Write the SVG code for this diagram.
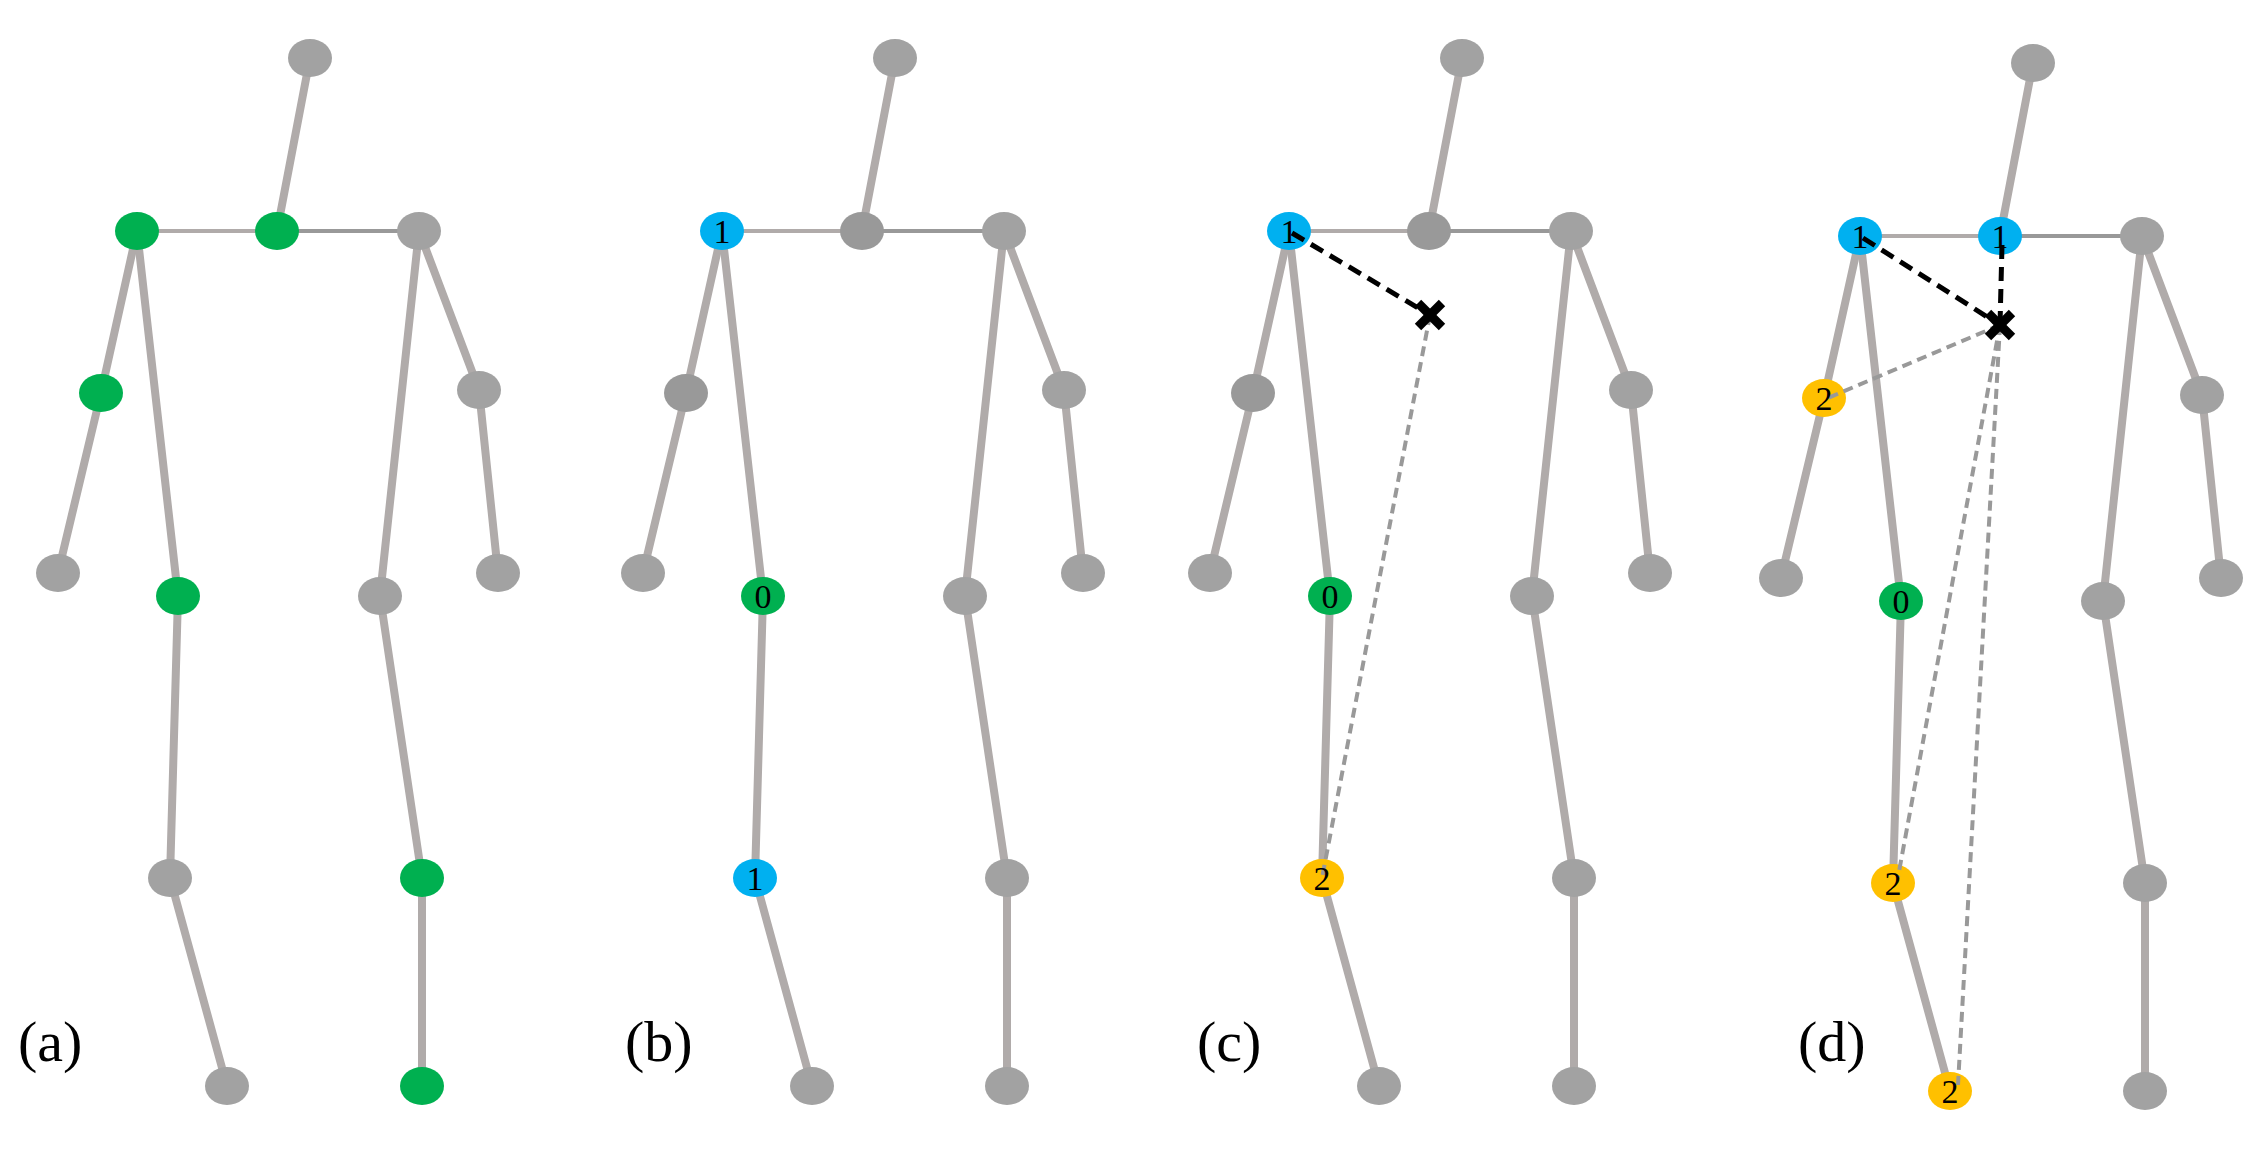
<svg xmlns="http://www.w3.org/2000/svg" width="2264" height="1151" viewBox="0 0 2264 1151">
<style>
.b{stroke:#b0abaa;stroke-width:8;fill:none;stroke-linecap:round}
.t{stroke:#b0abaa;stroke-width:4}
.t2{stroke:#999;stroke-width:4}
.n{fill:#a2a2a2}
.g{fill:#00b050}.bl{fill:#00b0f0}.o{fill:#ffc000}
.num{font-family:"Liberation Serif",serif;font-size:34px;text-anchor:middle;fill:#000}
.lab{font-family:"Liberation Serif",serif;font-size:58px;fill:#000}
.kd{stroke:#000;stroke-width:5;stroke-dasharray:14 8;fill:none}
.gd{stroke:#999;stroke-width:4;stroke-dasharray:10 6;fill:none}
.x{stroke:#000;stroke-width:9;stroke-linecap:butt}
</style>
<defs>
<g id="bones">
<line class="b" x1="310" y1="58" x2="277" y2="231"/>
<line class="t" x1="137" y1="231" x2="277" y2="231"/>
<line class="t2" x1="277" y1="231" x2="419" y2="231"/>
<polyline class="b" points="137,231 101,393 58,573"/>
<polyline class="b" points="137,231 178,596 170,878 227,1086"/>
<polyline class="b" points="419,231 479,390 498,573"/>
<polyline class="b" points="419,231 380,596 422,878 422,1086"/>
</g>
<ellipse id="e" rx="22" ry="19"/>
</defs>
<g id="panel-a">
<use href="#bones"/>
<use href="#e" class="n" x="310" y="58"/>
<use href="#e" class="g" x="137" y="231"/>
<use href="#e" class="g" x="277" y="231"/>
<use href="#e" class="n" x="419" y="231"/>
<use href="#e" class="g" x="101" y="393"/>
<use href="#e" class="n" x="58" y="573"/>
<use href="#e" class="g" x="178" y="596"/>
<use href="#e" class="n" x="170" y="878"/>
<use href="#e" class="n" x="227" y="1086"/>
<use href="#e" class="n" x="479" y="390"/>
<use href="#e" class="n" x="498" y="573"/>
<use href="#e" class="n" x="380" y="596"/>
<use href="#e" class="g" x="422" y="878"/>
<use href="#e" class="g" x="422" y="1086"/>
<text class="lab" x="18" y="1061">(a)</text>
</g>
<g id="panel-b" transform="translate(585,0)">
<use href="#bones"/>
<use href="#e" class="n" x="310" y="58"/>
<use href="#e" class="bl" x="137" y="231"/>
<use href="#e" fill="#999" x="277" y="231"/>
<use href="#e" class="n" x="419" y="231"/>
<use href="#e" fill="#999" x="101" y="393"/>
<use href="#e" class="n" x="58" y="573"/>
<use href="#e" class="g" x="178" y="596"/>
<use href="#e" class="bl" x="170" y="878"/>
<use href="#e" class="n" x="227" y="1086"/>
<use href="#e" class="n" x="479" y="390"/>
<use href="#e" class="n" x="498" y="573"/>
<use href="#e" class="n" x="380" y="596"/>
<use href="#e" class="n" x="422" y="878"/>
<use href="#e" class="n" x="422" y="1086"/>
<text class="num" x="137" y="243">1</text>
<text class="num" x="178" y="608">0</text>
<text class="num" x="170" y="890">1</text>
<text class="lab" x="40" y="1061">(b)</text>
</g>
<g id="panel-c" transform="translate(1152,0)">
<use href="#bones"/>
<use href="#e" class="n" x="310" y="58"/>
<use href="#e" class="bl" x="137" y="231"/>
<use href="#e" fill="#999" x="277" y="231"/>
<use href="#e" class="n" x="419" y="231"/>
<use href="#e" fill="#999" x="101" y="393"/>
<use href="#e" class="n" x="58" y="573"/>
<use href="#e" class="g" x="178" y="596"/>
<use href="#e" class="o" x="170" y="878"/>
<use href="#e" class="n" x="227" y="1086"/>
<use href="#e" class="n" x="479" y="390"/>
<use href="#e" class="n" x="498" y="573"/>
<use href="#e" class="n" x="380" y="596"/>
<use href="#e" class="n" x="422" y="878"/>
<use href="#e" class="n" x="422" y="1086"/>
<g id="conn-c">
<line class="kd" x1="140" y1="233" x2="278" y2="315"/>
<line class="gd" x1="278" y1="315" x2="170" y2="878"/>
<line class="x" x1="266" y1="303" x2="290" y2="327"/>
<line class="x" x1="290" y1="303" x2="266" y2="327"/>
</g>
<text class="num" x="137" y="243">1</text>
<text class="num" x="178" y="608">0</text>
<text class="num" x="170" y="890">2</text>
<text class="lab" x="45" y="1061">(c)</text>
</g>
<g id="panel-d" transform="translate(1723,5)">
<use href="#bones"/>
<use href="#e" class="n" x="310" y="58"/>
<use href="#e" class="bl" x="137" y="231"/>
<use href="#e" class="bl" x="277" y="231"/>
<use href="#e" class="n" x="419" y="231"/>
<use href="#e" class="o" x="101" y="393"/>
<use href="#e" class="n" x="58" y="573"/>
<use href="#e" class="g" x="178" y="596"/>
<use href="#e" class="o" x="170" y="878"/>
<use href="#e" class="o" x="227" y="1086"/>
<use href="#e" class="n" x="479" y="390"/>
<use href="#e" class="n" x="498" y="573"/>
<use href="#e" class="n" x="380" y="596"/>
<use href="#e" class="n" x="422" y="878"/>
<use href="#e" class="n" x="422" y="1086"/>
<g id="conn-d">
<line class="kd" x1="140" y1="233" x2="277" y2="320"/>
<line class="kd" x1="279" y1="240" x2="277" y2="320"/>
<line class="gd" x1="277" y1="320" x2="105" y2="393"/>
<line class="gd" x1="277" y1="320" x2="175" y2="872"/>
<line class="gd" x1="277" y1="320" x2="235" y2="1080"/>
<line class="x" x1="265" y1="308" x2="289" y2="332"/>
<line class="x" x1="289" y1="308" x2="265" y2="332"/>
</g>
<text class="num" x="137" y="243">1</text>
<text class="num" x="277" y="243">1</text>
<text class="num" x="101" y="405">2</text>
<text class="num" x="178" y="608">0</text>
<text class="num" x="170" y="890">2</text>
<text class="num" x="227" y="1098">2</text>
<text class="lab" x="75" y="1056">(d)</text>
</g>
</svg>
